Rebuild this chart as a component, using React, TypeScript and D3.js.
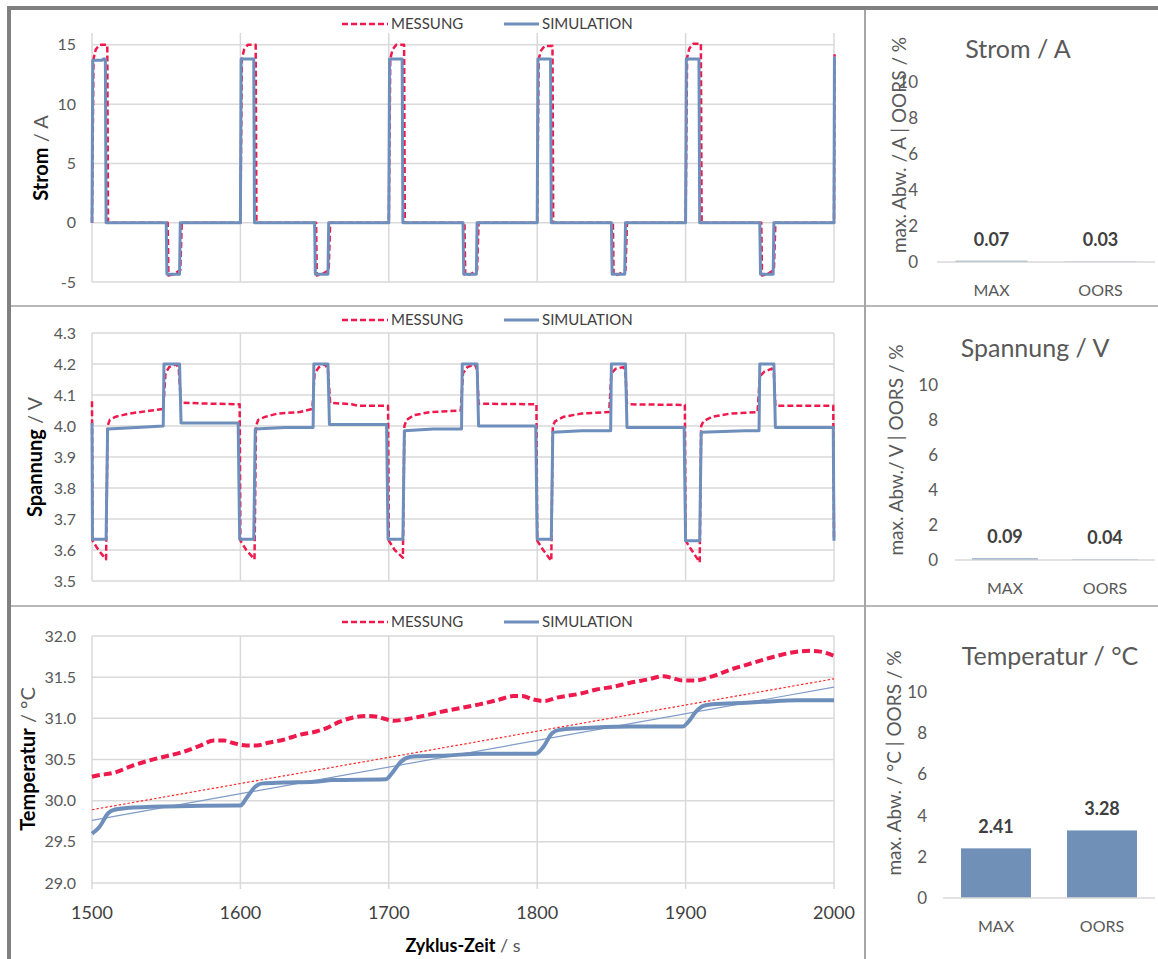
import React from "react";
import * as d3 from "d3";

type P = [number, number];

const FONT = "Lato, 'Open Sans', sans-serif";
const RED = "#ee1a4e";
const BLUE = "#6e8fbc";
const BAR = "#7190b8";
const GRID = "#d9d9d9";
const GRAY = "#595959";

// x axis
const xTicks = [1500, 1600, 1700, 1800, 1900, 2000];

// Strom / A
const stromTicks = [-5, 0, 5, 10, 15];
const stromMessung: P[] = [
  [1500, 0], [1501, 13.8], [1502.5, 14.6], [1505, 15], [1510.3, 15], [1510.8, 0],
  [1551, 0], [1551.5, -4.45], [1555, -4.35], [1559.5, -4.0], [1560.5, 0],
  [1600, 0], [1601, 13.8], [1602.5, 14.6], [1605, 15], [1610.3, 15], [1610.8, 0],
  [1651, 0], [1651.5, -4.45], [1655, -4.35], [1659.5, -4.0], [1660.5, 0],
  [1700, 0], [1701, 13.8], [1702.5, 14.6], [1705, 15], [1710.3, 15], [1710.8, 0],
  [1751, 0], [1751.5, -4.45], [1755, -4.35], [1759.5, -4.0], [1760.5, 0],
  [1800, 0], [1801, 13.8], [1802.5, 14.5], [1805, 14.9], [1810.3, 14.9], [1810.8, 0],
  [1851, 0], [1851.5, -4.45], [1855, -4.35], [1859.5, -4.0], [1860.5, 0],
  [1900, 0], [1901, 13.9], [1902.5, 14.7], [1905, 15.1], [1910.3, 15.1], [1910.8, 0],
  [1951, 0], [1951.5, -4.45], [1955, -4.35], [1959.5, -4.0], [1960.5, 0],
  [2000, 0], [2000.4, 14.2],
];
const stromSimulation: P[] = [
  [1500, 0], [1500.5, 13.7], [1507, 13.7], [1507.5, 13.8], [1509, 13.8], [1509.5, 0],
  [1550, 0], [1550.5, -4.35], [1559, -4.35], [1559.5, 0],
  [1600, 0], [1600.5, 13.8], [1609, 13.8], [1609.5, 0],
  [1650, 0], [1650.5, -4.35], [1659, -4.35], [1659.5, 0],
  [1700, 0], [1700.5, 13.8], [1709, 13.8], [1709.5, 0],
  [1750, 0], [1750.5, -4.35], [1759, -4.35], [1759.5, 0],
  [1800, 0], [1800.5, 13.8], [1809, 13.8], [1809.5, 0],
  [1850, 0], [1850.5, -4.35], [1859, -4.35], [1859.5, 0],
  [1900, 0], [1900.5, 13.8], [1909, 13.8], [1909.5, 0],
  [1950, 0], [1950.5, -4.35], [1959, -4.35], [1959.5, 0],
  [2000, 0], [2000.3, 14.0],
];

// Spannung / V
const spannungTicks = [3.5, 3.6, 3.7, 3.8, 3.9, 4.0, 4.1, 4.2, 4.3];
const spannungMessung: P[] = [
  [1500, 4.08], [1500.4, 3.63], [1503, 3.61], [1506, 3.59], [1509.5, 3.57], [1510.5, 4.0],
  [1512, 4.02], [1516, 4.03], [1525, 4.04], [1540, 4.05], [1548, 4.055], [1549.5, 4.17],
  [1552, 4.19], [1557, 4.2], [1558.5, 4.18], [1560, 4.075], [1580, 4.072], [1599.5, 4.07],
  [1600, 3.63], [1604, 3.6], [1609.5, 3.57], [1610.5, 4.0], [1612, 4.02], [1617, 4.03],
  [1625, 4.04], [1640, 4.045], [1648.5, 4.055], [1650, 4.17], [1653, 4.19], [1657, 4.2],
  [1659, 4.18], [1660.5, 4.075], [1675, 4.07], [1680, 4.065], [1699.5, 4.065],
  [1700, 3.63], [1704, 3.6], [1709.5, 3.575], [1710.5, 4.0], [1712, 4.02], [1717, 4.035],
  [1728, 4.045], [1748.5, 4.05], [1750, 4.17], [1753, 4.19], [1758, 4.2], [1759.5, 4.18],
  [1760.5, 4.072], [1799.5, 4.07],
  [1800, 3.63], [1804, 3.6], [1809.5, 3.565], [1810.5, 4.0], [1812, 4.015], [1818, 4.03],
  [1830, 4.04], [1848.5, 4.045], [1850, 4.17], [1853, 4.185], [1858, 4.19], [1859.5, 4.17],
  [1860.5, 4.07], [1899.5, 4.068],
  [1900, 3.63], [1904, 3.6], [1909.5, 3.56], [1910.5, 4.0], [1912, 4.015], [1918, 4.03],
  [1930, 4.04], [1948.5, 4.045], [1950, 4.16], [1953, 4.175], [1958, 4.185], [1959.5, 4.17],
  [1960.5, 4.065], [1999.5, 4.065], [2000, 3.64],
];
const spannungSimulation: P[] = [
  [1500, 4.01], [1500.3, 3.635], [1509.5, 3.635], [1510.5, 3.99], [1530, 3.995], [1548, 4.0],
  [1548.5, 4.2], [1559, 4.2], [1560, 4.01], [1598.5, 4.01], [1599.5, 3.635],
  [1609, 3.635], [1610, 3.99], [1630, 3.995], [1649, 3.995], [1649.5, 4.2], [1659, 4.2],
  [1660, 4.005], [1698.5, 4.005], [1699.5, 3.635],
  [1709.5, 3.635], [1710.5, 3.985], [1730, 3.99], [1749, 3.99], [1749.5, 4.2], [1759.5, 4.2],
  [1760.5, 4.0], [1799, 4.0], [1800, 3.635],
  [1809.5, 3.635], [1810.5, 3.98], [1830, 3.985], [1849.5, 3.985], [1850, 4.2], [1859.5, 4.2],
  [1860.5, 3.995], [1899, 3.995], [1900, 3.63],
  [1909.5, 3.63], [1910.5, 3.98], [1940, 3.985], [1949.5, 3.985], [1950, 4.2], [1959.5, 4.2],
  [1960.5, 3.995], [1999.5, 3.995], [2000, 3.63],
];

// Temperatur / °C
const temperaturTicks = [29, 29.5, 30, 30.5, 31, 31.5, 32];
const temperaturMessung: P[] = [
  [1500, 30.29], [1502, 30.3], [1515, 30.34], [1528, 30.43], [1539, 30.49], [1550, 30.54],
  [1561, 30.59], [1573, 30.67], [1582, 30.73], [1589, 30.73], [1595, 30.7], [1604, 30.67],
  [1611, 30.67], [1618, 30.7], [1629, 30.74], [1640, 30.8], [1651, 30.84], [1658, 30.88],
  [1667, 30.96], [1676, 31.01], [1685, 31.03], [1692, 31.02], [1698, 30.99], [1703, 30.97],
  [1712, 30.99], [1726, 31.04], [1738, 31.09], [1750, 31.13], [1761, 31.17], [1773, 31.22],
  [1784, 31.27], [1790, 31.27], [1797, 31.23], [1805, 31.21], [1813, 31.25], [1829, 31.3],
  [1840, 31.35], [1853, 31.39], [1862, 31.43], [1874, 31.47], [1885, 31.51], [1891, 31.49],
  [1898, 31.46], [1907, 31.46], [1918, 31.51], [1930, 31.59], [1941, 31.65], [1952, 31.71],
  [1964, 31.77], [1975, 31.81], [1984, 31.82], [1991, 31.81], [2000, 31.76],
];
const temperaturSimulation: P[] = [
  [1500, 29.6], [1505, 29.68], [1511, 29.85], [1515, 29.89], [1523, 29.91], [1550, 29.93],
  [1598, 29.94], [1600, 29.94], [1604, 30.03], [1610, 30.17], [1615, 30.21], [1629, 30.22],
  [1650, 30.23], [1662, 30.25], [1698, 30.26], [1702, 30.33], [1708, 30.47], [1714, 30.53],
  [1721, 30.54], [1740, 30.55], [1761, 30.57], [1799, 30.57], [1804, 30.65], [1810, 30.82],
  [1815, 30.86], [1829, 30.88], [1862, 30.9], [1898, 30.9], [1902, 30.96], [1907, 31.08],
  [1912, 31.15], [1918, 31.17], [1941, 31.19], [1952, 31.2], [1975, 31.22], [2000, 31.22],
];
const temperaturMessungTrend: P[] = [[1500, 29.89], [2000, 31.48]];
const temperaturSimulationTrend: P[] = [[1500, 29.76], [2000, 31.38]];

// Abweichungen
const barTicks = [0, 2, 4, 6, 8, 10];
const barCategories = ["MAX", "OORS"];
const stromAbw = [0.07, 0.03];
const spannungAbw = [0.09, 0.04];
const temperaturAbw = [2.41, 3.28];

const x = d3.scaleLinear().domain([1500, 2000]).range([92, 834]);

type LineProps = {
  yDomain: [number, number];
  yRange: [number, number];
  ticks: number[];
  fmt: (v: number) => string;
  mess: P[];
  sim: P[];
  trends?: P[][];
  smooth?: boolean;
  legendY: number;
  label: string;
  unit: string;
  labelX: number;
  labelY: number;
  thick?: boolean;
  xAxis?: boolean;
};

function LinePanel(p: LineProps) {
  const y = d3.scaleLinear().domain(p.yDomain).range(p.yRange);
  const line = d3
    .line<P>()
    .x((d) => x(d[0]))
    .y((d) => y(d[1]));
  const curve = p.smooth ? d3.curveMonotoneX : d3.curveLinear;
  const [yb, yt] = p.yRange;
  const redW = p.thick ? 4 : 2.5;
  const redDash = p.thick ? "8,4" : "6,3";
  const blueW = p.thick ? 4 : 3;
  return (
    <g>
      {p.ticks.map((t) => (
        <line key={"h" + t} x1={x(1500)} x2={x(2000)} y1={y(t)} y2={y(t)} stroke={GRID} strokeWidth={1.5} />
      ))}
      {xTicks.map((t) => (
        <line key={"v" + t} x1={x(t)} x2={x(t)} y1={yt} y2={p.xAxis ? yb + 6 : yb} stroke={GRID} strokeWidth={1.5} />
      ))}
      {p.ticks.map((t) => (
        <text key={"l" + t} x={76} y={y(t)} dy="0.35em" textAnchor="end" fontSize={16} fill={GRAY}>
          {p.fmt(t)}
        </text>
      ))}
      {p.xAxis &&
        xTicks.map((t) => (
          <text key={"x" + t} x={x(t)} y={yb + 36} textAnchor="middle" fontSize={18} fill="#404040">
            {t}
          </text>
        ))}
      {(p.trends || []).map((tr, i) => (
        <path
          key={"t" + i}
          d={line.curve(d3.curveLinear)(tr) || ""}
          fill="none"
          stroke={i === 0 ? "#ff2a2a" : "#7f9cc8"}
          strokeWidth={1.2}
          strokeDasharray={i === 0 ? "2.5,2" : undefined}
        />
      ))}
      <path
        d={line.curve(curve)(p.mess) || ""}
        fill="none"
        stroke={RED}
        strokeWidth={redW}
        strokeDasharray={redDash}
        strokeLinejoin="round"
      />
      <path
        d={line.curve(curve)(p.sim) || ""}
        fill="none"
        stroke={BLUE}
        strokeWidth={blueW}
        strokeLinejoin="round"
      />
      {/* legend */}
      <line x1={342} x2={388} y1={p.legendY} y2={p.legendY} stroke={RED} strokeWidth={2.5} strokeDasharray="6,3" />
      <text x={391} y={p.legendY} dy="0.35em" fontSize={15} fill="#404040">MESSUNG</text>
      <line x1={504} x2={539} y1={p.legendY} y2={p.legendY} stroke={BLUE} strokeWidth={3} />
      <text x={542} y={p.legendY} dy="0.35em" fontSize={15} fill="#404040">SIMULATION</text>
      <text
        transform={`translate(${p.labelX},${p.labelY}) rotate(-90)`}
        textAnchor="middle"
        dominantBaseline="central"
        fontSize={20}
      >
        <tspan fontWeight="bold" fill="#000">{p.label}</tspan>
        <tspan fill={GRAY}>{" / " + p.unit}</tspan>
      </text>
    </g>
  );
}

type BarProps = {
  values: number[];
  y0: number;
  y10: number;
  x0: number;
  title: string;
  titleX: number;
  titleY: number;
  axisLabel: string;
  axisX: number;
  axisY: number;
  tickGap: number;
};

function BarPanel(p: BarProps) {
  const y = d3.scaleLinear().domain([0, 10]).range([p.y0, p.y10]);
  const band = d3.scaleBand<string>().domain(barCategories).range([p.x0, 1155]);
  const bw = band.bandwidth() * 0.66;
  return (
    <g>
      <text x={p.titleX} y={p.titleY} textAnchor="middle" dominantBaseline="central" fontSize={25} fill={GRAY}>
        {p.title}
      </text>
      <text
        transform={`translate(${p.axisX},${p.axisY}) rotate(-90)`}
        textAnchor="middle"
        dominantBaseline="central"
        fontSize={19}
        fill={GRAY}
      >
        {p.axisLabel}
      </text>
      {barTicks.map((t) => (
        <text key={t} x={p.x0 - p.tickGap} y={y(t)} dy="0.35em" textAnchor="end" fontSize={17} fill={GRAY}>
          {t}
        </text>
      ))}
      {barCategories.map((c, i) => {
        const cx = (band(c) as number) + band.bandwidth() / 2;
        return (
          <g key={c}>
            <rect x={cx - bw / 2} y={y(p.values[i])} width={bw} height={p.y0 - y(p.values[i])} fill={BAR} />
            <text x={cx} y={y(p.values[i]) - 15} textAnchor="middle" fontSize={18} fontWeight="bold" fill="#404040">
              {p.values[i].toFixed(2)}
            </text>
            <text x={cx} y={p.y0 + 28} dy="0.35em" textAnchor="middle" fontSize={16} fill={GRAY}>
              {c}
            </text>
          </g>
        );
      })}
      <line x1={p.x0} x2={1155} y1={p.y0} y2={p.y0} stroke={GRID} strokeWidth={1.5} />
    </g>
  );
}

export default function App() {
  return (
    <svg
      width={1158}
      height={959}
      style={{ position: "absolute", left: 0, top: 0, background: "#fff" }}
      fontFamily={FONT}
    >
      <rect x={0} y={0} width={1158} height={959} fill="#fff" />
      <LinePanel
        yDomain={[-5, 16]}
        yRange={[282, 33]}
        ticks={stromTicks}
        fmt={(v) => String(v)}
        mess={stromMessung}
        sim={stromSimulation}
        legendY={24}
        label="Strom"
        unit="A"
        labelX={40}
        labelY={158}
      />
      <LinePanel
        yDomain={[3.5, 4.3]}
        yRange={[581, 333]}
        ticks={spannungTicks}
        fmt={(v) => v.toFixed(1)}
        mess={spannungMessung}
        sim={spannungSimulation}
        legendY={320}
        label="Spannung"
        unit="V"
        labelX={34}
        labelY={457}
      />
      <LinePanel
        yDomain={[29, 32]}
        yRange={[883, 636]}
        ticks={temperaturTicks}
        fmt={(v) => v.toFixed(1)}
        mess={temperaturMessung}
        sim={temperaturSimulation}
        trends={[temperaturMessungTrend, temperaturSimulationTrend]}
        smooth
        thick
        xAxis
        legendY={622}
        label="Temperatur"
        unit="°C"
        labelX={27}
        labelY={759}
      />
      <text x={463} y={945} textAnchor="middle" dominantBaseline="central" fontSize={18}>
        <tspan fontWeight="bold" fill="#000">Zyklus-Zeit</tspan>
        <tspan fill={GRAY}>{" / s"}</tspan>
      </text>

      <BarPanel
        values={stromAbw}
        y0={262}
        y10={82}
        x0={937}
        title="Strom / A"
        titleX={1018}
        titleY={48}
        axisLabel="max. Abw. / A | OORS / %"
        axisX={898}
        axisY={145}
        tickGap={19}
      />
      <BarPanel
        values={spannungAbw}
        y0={560}
        y10={385}
        x0={955}
        title="Spannung / V"
        titleX={1035}
        titleY={347}
        axisLabel="max. Abw./ V | OORS / %"
        axisX={895}
        axisY={450}
        tickGap={17}
      />
      <BarPanel
        values={temperaturAbw}
        y0={898}
        y10={692}
        x0={943}
        title="Temperatur / °C"
        titleX={1050}
        titleY={655}
        axisLabel="max. Abw. / °C | OORS / %"
        axisX={893}
        axisY={763}
        tickGap={16}
      />

      {/* frame */}
      <line x1={11} x2={1158} y1={306} y2={306} stroke="#a0a0a0" strokeWidth={1.5} />
      <line x1={11} x2={1158} y1={606} y2={606} stroke="#a0a0a0" strokeWidth={1.5} />
      <line x1={865} x2={865} y1={10} y2={959} stroke="#a6a6a6" strokeWidth={2} />
      <line x1={7} x2={1158} y1={8} y2={8} stroke="#808080" strokeWidth={4} />
      <line x1={9} x2={9} y1={6} y2={959} stroke="#808080" strokeWidth={4} />
    </svg>
  );
}
